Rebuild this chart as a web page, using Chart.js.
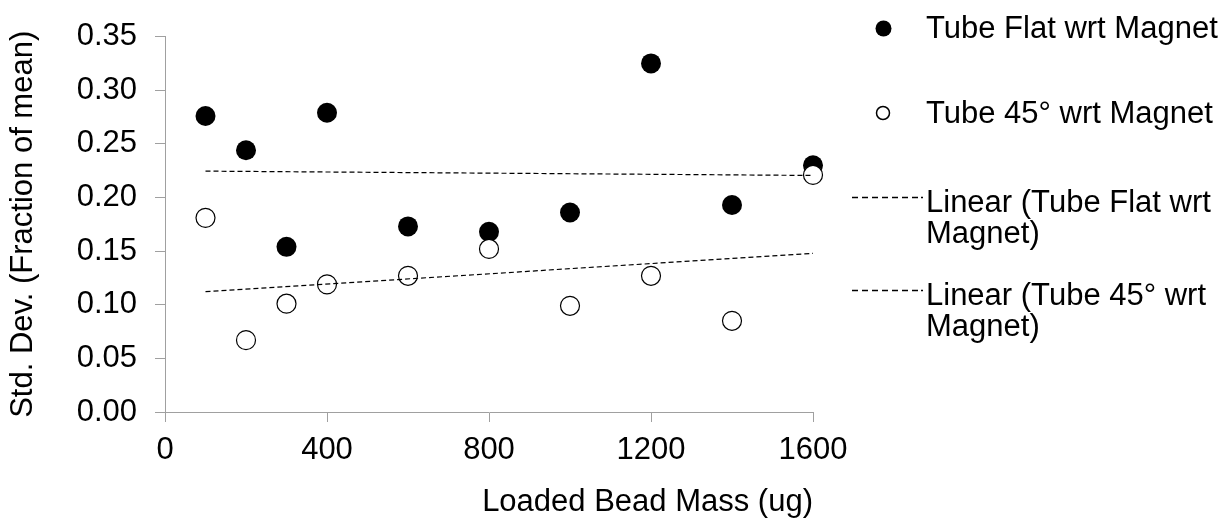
<!DOCTYPE html>
<html>
<head>
<meta charset="utf-8">
<script src="https://cdn.jsdelivr.net/npm/chart.js@4.4.0/dist/chart.umd.min.js"></script>
<style>
  html, body { margin: 0; padding: 0; background: #fff; }
  #wrap { position: relative; width: 1225px; height: 521px; }
</style>
</head>
<body>
<div id="wrap"><canvas id="myChart" width="1225" height="521"></canvas></div>
<script>
// values
const massUg = [100, 200, 300, 400, 600, 800, 1000, 1200, 1400, 1600];
const flatDev = [0.276, 0.244, 0.154, 0.279, 0.173, 0.168, 0.186, 0.325, 0.193, 0.230];
const tiltDev = [0.181, 0.067, 0.101, 0.119, 0.127, 0.152, 0.099, 0.127, 0.085, 0.221];

const seriesNames = ['Tube Flat wrt Magnet', 'Tube 45° wrt Magnet'];
const trendNames = [['Linear (Tube Flat wrt', 'Magnet)'], ['Linear (Tube 45° wrt', 'Magnet)']];

const xTitle = 'Loaded Bead Mass (ug)';
const yTitle = 'Std. Dev. (Fraction of mean)';

const axisGray = '#a0a0a0';
const fontFam = '"Liberation Sans", Arial, sans-serif';

function pts(xs, ys) {
  return xs.map((x, i) => ({ x: x, y: ys[i] }));
}

// least squares trend, like Excel's linear trendline
function trend(xs, ys) {
  const n = xs.length;
  const mx = xs.reduce((a, b) => a + b, 0) / n;
  const my = ys.reduce((a, b) => a + b, 0) / n;
  let sxy = 0, sxx = 0;
  for (let i = 0; i < n; i++) {
    sxy += (xs[i] - mx) * (ys[i] - my);
    sxx += (xs[i] - mx) * (xs[i] - mx);
  }
  const k = sxy / sxx;
  const x0 = Math.min(...xs), x1 = Math.max(...xs);
  return [{ x: x0, y: my + k * (x0 - mx) }, { x: x1, y: my + k * (x1 - mx) }];
}

// legend on the right, drawn by hand
const sideLegend = {
  id: 'sideLegend',
  afterDraw(chart) {
    const c = chart.ctx;
    c.save();
    c.font = '31px ' + fontFam;
    c.fillStyle = '#000';
    c.textBaseline = 'alphabetic';
    c.textAlign = 'left';

    c.beginPath();
    c.arc(883.5, 28.5, 8, 0, Math.PI * 2);
    c.fill();
    c.fillText(seriesNames[0], 926, 38);

    c.beginPath();
    c.arc(883, 113, 6.5, 0, Math.PI * 2);
    c.fillStyle = '#fff';
    c.fill();
    c.lineWidth = 1.5;
    c.strokeStyle = '#000';
    c.stroke();
    c.fillStyle = '#000';
    c.fillText(seriesNames[1], 926, 123);

    const rows = [197.5, 290.5];
    c.lineWidth = 1.3;
    rows.forEach((y, i) => {
      c.setLineDash([6, 4]);
      c.beginPath();
      c.moveTo(852, y);
      c.lineTo(920, y);
      c.stroke();
      c.setLineDash([]);
      c.beginPath();
      c.moveTo(921, y);
      c.lineTo(923, y);
      c.stroke();
      c.fillText(trendNames[i][0], 926, y + 14);
      c.fillText(trendNames[i][1], 926, y + 45);
    });
    c.restore();
  }
};

var ctx = document.getElementById('myChart').getContext('2d');

var myChart = new Chart(ctx, {
  type: 'scatter',
  data: {
    datasets: [
      {
        label: trendNames[0].join(' '),
        type: 'line',
        data: trend(massUg, flatDev),
        borderColor: '#000',
        borderWidth: 1.2,
        borderDash: [5, 3],
        pointRadius: 0,
        fill: false,
        clip: false,
        order: 0
      },
      {
        label: trendNames[1].join(' '),
        type: 'line',
        data: trend(massUg, tiltDev),
        borderColor: '#000',
        borderWidth: 1.2,
        borderDash: [5, 3],
        pointRadius: 0,
        fill: false,
        clip: false,
        order: 0
      },
      {
        label: seriesNames[1],
        data: pts(massUg, tiltDev),
        pointRadius: 9.5,
        pointBackgroundColor: '#fff',
        pointBorderColor: '#000',
        pointBorderWidth: 1.2,
        clip: false,
        order: 1
      },
      {
        label: seriesNames[0],
        data: pts(massUg, flatDev),
        pointRadius: 10,
        pointBackgroundColor: '#000',
        pointBorderColor: '#000',
        pointBorderWidth: 0,
        clip: false,
        order: 2
      }
    ]
  },
  options: {
    responsive: false,
    animation: false,
    layout: { padding: { left: 0, top: 36, right: 412, bottom: 0 } },
    plugins: {
      legend: { display: false },
      tooltip: { enabled: false }
    },
    scales: {
      x: {
        type: 'linear',
        min: 0,
        max: 1600,
        afterFit: s => { s.height = 109; },
        ticks: {
          stepSize: 400,
          color: '#000',
          padding: 10,
          font: { family: fontFam, size: 31 },
          callback: v => String(v)
        },
        grid: { display: true, drawOnChartArea: false, drawTicks: true, tickLength: 10, color: axisGray },
        border: { display: true, color: axisGray, width: 1 },
        title: {
          display: true,
          text: xTitle,
          align: 'end',
          color: '#000',
          padding: { top: 0, bottom: 0 },
          font: { family: fontFam, size: 31 }
        }
      },
      y: {
        min: 0,
        max: 0.35,
        afterFit: s => { s.width = 165; },
        ticks: {
          stepSize: 0.05,
          color: '#000',
          padding: 18,
          font: { family: fontFam, size: 31 },
          callback: v => v.toFixed(2)
        },
        grid: { display: true, drawOnChartArea: false, drawTicks: true, tickLength: 10, color: axisGray },
        border: { display: true, color: axisGray, width: 1 },
        title: {
          display: true,
          text: yTitle,
          color: '#000',
          padding: { top: 5, bottom: 0 },
          font: { family: fontFam, size: 31 }
        }
      }
    }
  },
  plugins: [sideLegend]
});
</script>
</body>
</html>
